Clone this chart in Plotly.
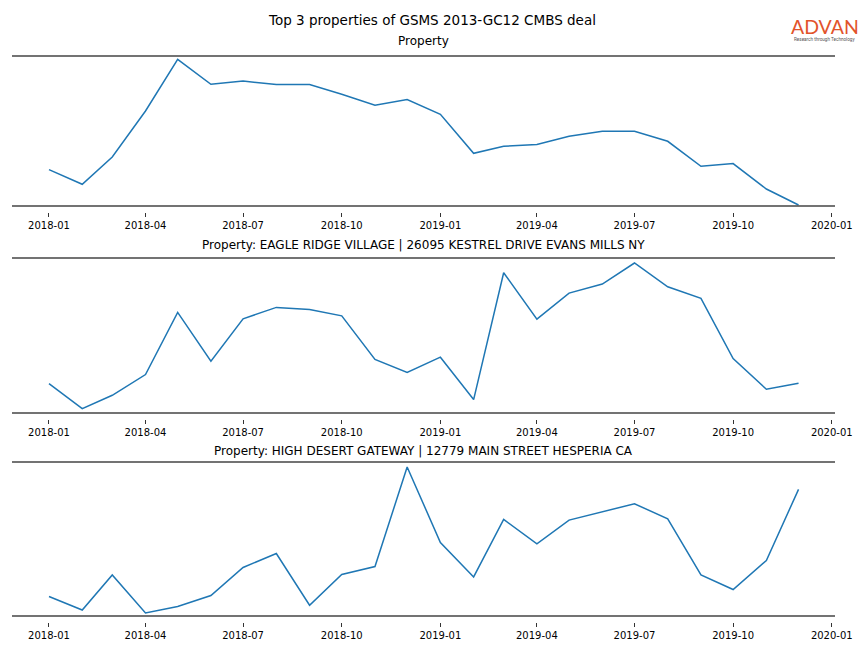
import plotly.graph_objects as go

# ---------------- data ----------------
months = [f"{y}-{m:02d}-01" for y in (2018, 2019) for m in range(1, 13)]

property_titles = [
    "Property",
    "Property: EAGLE RIDGE VILLAGE | 26095 KESTREL DRIVE EVANS MILLS NY",
    "Property: HIGH DESERT GATEWAY | 12779 MAIN STREET HESPERIA CA",
]

# relative activity index (unitless)
values_property = [36.4, 21.7, 49.0, 95.0, 146.7, 121.7, 125.0, 121.4, 121.4, 111.7, 100.7, 106.4,
                   91.7, 52.7, 59.7, 61.4, 69.7, 74.7, 74.7, 64.7, 39.7, 42.4, 17.0, 1.0]
values_eagle_ridge = [29.4, 4.4, 17.7, 38.4, 100.4, 51.7, 94.0, 105.4, 103.4, 97.0, 53.4, 40.4,
                      55.7, 13.4, 140.0, 93.7, 119.7, 128.7, 149.7, 126.0, 114.4, 54.4, 23.7, 29.7]
values_high_desert = [19.4, 6.0, 41.0, 3.0, 9.4, 20.4, 48.4, 62.4, 10.7, 41.4, 49.4, 148.7,
                      73.4, 39.0, 96.4, 72.0, 95.7, 103.7, 112.0, 97.0, 41.0, 26.4, 55.4, 126.4]

tick_vals = ["2018-01-01", "2018-04-01", "2018-07-01", "2018-10-01", "2019-01-01",
             "2019-04-01", "2019-07-01", "2019-10-01", "2020-01-01"]
tick_text = ["2018-01", "2018-04", "2018-07", "2018-10", "2019-01",
             "2019-04", "2019-07", "2019-10", "2020-01"]

series = [values_property, values_eagle_ridge, values_high_desert]

# ---------------- layout ----------------
W, H = 864, 648
X0, X1 = 12, 835
panels_px = [(56, 206), (258, 413), (462, 616)]
title_centers_px = [41, 244.5, 450.5]
y_ranges = [[0, 150], [0, 154.7], [0, 153.7]]
x_range = ["2017-11-27 12:00", "2020-01-04"]
FONT = "DejaVu Sans"
SPINE = "#444444"

fig = go.Figure()
layout = dict(
    width=W, height=H, autosize=False,
    margin=dict(l=0, r=0, t=0, b=0, pad=0),
    paper_bgcolor="white", plot_bgcolor="white",
    showlegend=False,
    font=dict(family=FONT, size=10, color="black"),
)
shapes = []
annotations = []

for i, (vals, (top, bot)) in enumerate(zip(series, panels_px)):
    n = i + 1
    xa = "x" if n == 1 else f"x{n}"
    ya = "y" if n == 1 else f"y{n}"
    fig.add_trace(go.Scatter(x=months, y=vals, mode="lines",
                             line=dict(color="#1f77b4", width=1.5),
                             xaxis=xa, yaxis=ya, hoverinfo="skip"))
    ydom = [1 - bot / H, 1 - top / H]
    xkey = "xaxis" if n == 1 else f"xaxis{n}"
    ykey = "yaxis" if n == 1 else f"yaxis{n}"
    layout[xkey] = dict(
        domain=[X0 / W, X1 / W], range=x_range, type="date",
        anchor="free", position=1 - (bot + 6) / H, automargin=False,
        showline=False, showgrid=False, zeroline=False,
        ticks="outside", ticklen=4, tickwidth=1, tickcolor="#333333",
        tickvals=tick_vals, ticktext=tick_text,
        tickfont=dict(family=FONT, size=10, color="black"),
        ticklabelstandoff=0,
    )
    layout[ykey] = dict(
        domain=ydom, range=y_ranges[i], anchor=xa, automargin=False,
        showline=False, showgrid=False, zeroline=False,
        showticklabels=False, ticks="",
    )
    for yy in (0, 1):
        shapes.append(dict(type="line", xref=f"{xa} domain", yref=f"{ya} domain",
                           x0=0, x1=1, y0=yy, y1=yy,
                           line=dict(color=SPINE, width=1.6)))
    annotations.append(dict(text=property_titles[i], x=(X0 + X1) / 2 / W,
                            y=1 - title_centers_px[i] / H, xref="paper", yref="paper",
                            xanchor="center", yanchor="middle", showarrow=False,
                            font=dict(family=FONT, size=12, color="black")))

annotations.append(dict(text="Top 3 properties of GSMS 2013-GC12 CMBS deal",
                        x=0.5, y=1 - 20 / H, xref="paper", yref="paper",
                        xanchor="center", yanchor="middle", showarrow=False,
                        font=dict(family=FONT, size=13.5, color="black")))
annotations.append(dict(text="ADVAN", x=825 / W, y=1 - 27 / H, xref="paper", yref="paper",
                        xanchor="center", yanchor="middle", showarrow=False, borderpad=0,
                        font=dict(family="Lato", size=19.5, color="#e2532b")))
annotations.append(dict(text="Research through Technology", x=824.5 / W, y=1 - 39.5 / H,
                        xref="paper", yref="paper", xanchor="center", yanchor="middle",
                        showarrow=False, borderpad=0,
                        font=dict(family="Roboto", size=4.6, color="#555555")))

layout["shapes"] = shapes
layout["annotations"] = annotations
fig.update_layout(**layout)

post = ("document.documentElement.style.margin='0';"
        "document.body.style.margin='0';document.body.style.padding='0';"
        "document.body.style.overflow='hidden';"
        "Plotly.relayout('{plot_id}', {width: 864, height: 648});")
fig.write_html("out.html", post_script=post,
               config={"responsive": False, "displayModeBar": False})
